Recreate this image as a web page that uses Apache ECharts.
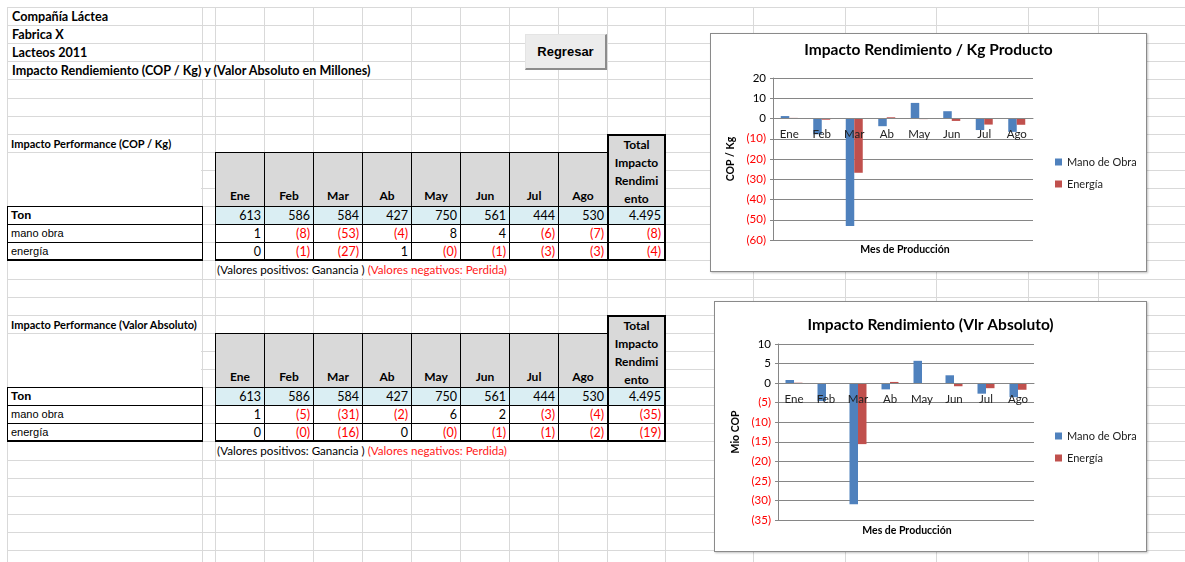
<!DOCTYPE html>
<html>
<head>
<meta charset="utf-8">
<script src="https://cdn.jsdelivr.net/npm/echarts@6/dist/echarts.min.js"></script>
<style>
  body { margin: 0; width: 1185px; height: 562px; overflow: hidden; background: #fff; position: relative; font-family: Lato, "Open Sans", sans-serif; color: #000; }
  .cell { position: absolute; box-sizing: border-box; white-space: nowrap; overflow: hidden; }
  .chart { position: absolute; box-sizing: border-box; background: #fff; border: 1px solid #8a8a8a; box-shadow: 1px 1px 2px rgba(0,0,0,0.25); }
</style>
</head>
<body>
<div id="c1" class="chart" style="left:710px;top:33px;width:437px;height:239px;"></div>
<div id="c2" class="chart" style="left:714px;top:301px;width:433px;height:251px;"></div>
<script>
// datos
const months = ['Ene', 'Feb', 'Mar', 'Ab', 'May', 'Jun', 'Jul', 'Ago'];
const tonMes = ['613', '586', '584', '427', '750', '561', '444', '530'];
const tonTotal = '4.495';

// impacto por Kg (COP / Kg)
const kgManoObra = [1.2, -7.8, -53.1, -3.8, 7.7, 3.6, -5.7, -6.6];
const kgEnergia = [0.3, -0.6, -26.8, 0.6, -0.3, -1.2, -3.0, -3.1];
const kgTotales = [-8, -4];
const kgEje = [-60, 20, 10]; // min, max, intervalo

// impacto valor absoluto (Mio COP)
const absManoObra = [0.8, -4.6, -31.0, -1.6, 5.7, 2.0, -2.7, -3.6];
const absEnergia = [0.1, -0.2, -15.6, 0.3, -0.2, -0.8, -1.3, -1.7];
const absTotales = [-35, -19];
const absEje = [-35, 10, 5];

const titulos = ['Compañía Láctea', 'Fabrica X', 'Lacteos 2011', 'Impacto Rendiemiento (COP / Kg) y (Valor Absoluto en Millones)'];

// hoja de calculo
const colX = [7, 202, 215, 264, 313, 362, 411, 460, 509, 558, 607, 665, 753, 845, 936, 1028, 1098];
const rowY = n => Math.round(7 + 18.1 * n);

function box(x, y, w, h, css, html) {
  const d = document.createElement('div');
  d.className = 'cell';
  d.style.cssText = 'left:' + x + 'px;top:' + y + 'px;width:' + w + 'px;height:' + h + 'px;' + (css || '');
  if (html != null) d.innerHTML = html;
  document.body.insertBefore(d, document.getElementById('c1'));
  return d;
}

function fmt(v) {
  const r = Math.round(v);
  return v < 0 ? '(' + Math.abs(r) + ')' : String(r);
}
function colorOf(v) { return v < 0 ? '#ff0000' : '#000'; }

// lineas de la grilla
for (let n = 0; n <= 30; n++) box(7, rowY(n), 1185 - 7, 1, 'background:#d9d9d9;');
colX.forEach(x => box(x, 7, 1, 562 - 7, 'background:#d9d9d9;'));

// titulos
titulos.forEach((t, i) => {
  box(8, rowY(i) + 1, i === 3 ? 402 : 190, 17, 'background:' + (i === 3 ? '#fff' : 'transparent') + ';padding-left:4px;font:bold 12.6px Lato;line-height:17px;', t);
});

// boton
box(525, 34, 82, 36, 'background:#ececec;border-top:1px solid #e4e4e4;border-left:1px solid #e4e4e4;border-right:2px solid #8c8c8c;border-bottom:2px solid #8c8c8c;text-align:center;font:bold 13px "Liberation Sans";line-height:33px;', 'Regresar');

function tabla(r0, etiqueta, mano, energia, totales) {
  box(8, rowY(r0) + 1, 193, 17, 'padding-left:3px;font:bold 11px Lato;line-height:17px;', etiqueta);
  box(8, rowY(r0 + 1) + 1, 193, rowY(r0 + 4) - rowY(r0 + 1) - 1, 'background:#fff;');
  // encabezados
  months.forEach((m, i) => {
    box(colX[2 + i], rowY(r0 + 1), colX[3 + i] - colX[2 + i] + 1, rowY(r0 + 4) - rowY(r0 + 1) + 1,
      'background:#d9d9d9;border:1px solid #000;text-align:center;font:bold 12px Lato;line-height:17px;padding-top:' + (rowY(r0 + 4) - rowY(r0 + 1) - 20) + 'px;', m);
  });
  box(colX[10], rowY(r0), colX[11] - colX[10] + 1, rowY(r0 + 4) - rowY(r0) + 1,
    'background:#d9d9d9;border:2px solid #000;border-bottom-width:1px;text-align:center;font:bold 12px Lato;line-height:18px;padding-top:0px;', 'Total<br>Impacto<br>Rendimi<br>ento');
  // filas
  const filas = [
    { label: 'Ton', bold: true, vals: tonMes.concat([tonTotal]), colors: null, bg: '#daeef3' },
    { label: 'mano obra', vals: mano.map(fmt).concat([fmt(totales[0])]), colors: mano.map(colorOf).concat([colorOf(totales[0])]), bg: '#fff' },
    { label: 'energía', vals: energia.map(fmt).concat([fmt(totales[1])]), colors: energia.map(colorOf).concat([colorOf(totales[1])]), bg: '#fff' }
  ];
  filas.forEach((f, k) => {
    const y = rowY(r0 + 4 + k), h = rowY(r0 + 5 + k) - y + 1;
    const last = k === 2;
    box(7, y, 196, h, 'background:#fff;border:1px solid #000;' + (last ? 'border-bottom-width:2px;' : '') + 'padding-left:3px;font:' + (f.bold ? 'bold 11.5px' : '11px') + ' "Liberation Sans";line-height:' + (h - 2) + 'px;', f.label);
    f.vals.forEach((v, i) => {
      const x0 = colX[2 + i], x1 = colX[3 + i];
      const isTot = i === 8;
      box(x0, y, x1 - x0 + 1, h,
        'background:' + f.bg + ';border:1px solid #000;' + (isTot ? 'border-left-width:2px;border-right-width:2px;' : '') + (last ? 'border-bottom-width:2px;' : '') +
        'text-align:right;padding-right:3px;font:12.5px Lato;line-height:' + (h - 2) + 'px;color:' + (f.colors ? f.colors[i] : '#000') + ';', v);
    });
  });
  // nota
  box(216, rowY(r0 + 7) + 1, 341, 17, 'background:#fff;padding-left:1px;font:11.6px Lato;line-height:17px;',
    '(Valores positivos: Ganancia ) <span style="color:#ff2020">(Valores negativos: Perdida)</span>');
}

tabla(7, 'Impacto Performance (COP / Kg)', kgManoObra, kgEnergia, kgTotales);
tabla(17, 'Impacto Performance (Valor Absoluto)', absManoObra, absEnergia, absTotales);

// graficos
function opcion(cfg) {
  const [yMin, yMax, yInt] = cfg.eje;
  // el eje de categorias (con sus etiquetas) cruza en el valor 0, como en Excel
  const zeroOffset = -cfg.grid[3] * (0 - yMin) / (yMax - yMin);
  return {
    animation: false,
    textStyle: { fontFamily: 'Lato' },
    title: {
      text: cfg.titulo, left: 'center', top: cfg.titleTop,
      textStyle: { fontSize: 15.5, fontWeight: 'bold', color: '#000', fontFamily: 'Lato' }
    },
    grid: { left: cfg.grid[0], top: cfg.grid[1], width: cfg.grid[2], height: cfg.grid[3] },
    legend: {
      orient: 'vertical', left: cfg.legend[0], top: cfg.legend[1],
      icon: 'rect', itemWidth: 7, itemHeight: 7, itemGap: 10,
      textStyle: { fontSize: 11, color: '#222', lineHeight: 12 },
      data: ['Mano de Obra', 'Energía']
    },
    xAxis: {
      type: 'category', data: months, z: 5, position: 'bottom', offset: zeroOffset,
      axisLine: { onZero: false, lineStyle: { color: '#868686' } },
      axisTick: { show: false },
      axisLabel: { margin: 10, fontSize: 11.5, color: '#222', interval: 0 }
    },
    yAxis: {
      type: 'value', min: yMin, max: yMax, interval: yInt,
      name: cfg.yName, nameLocation: 'middle', nameGap: cfg.nameGap,
      nameTextStyle: { fontWeight: 'bold', fontSize: 10.5, color: '#000' },
      axisLine: { show: true, lineStyle: { color: '#868686' } },
      axisTick: { show: true, length: 3, lineStyle: { color: '#868686' } },
      splitLine: { lineStyle: { color: '#868686' } },
      axisLabel: {
        fontSize: 11.5, margin: 7,
        formatter: v => (v < 0 ? '(' + (-v) + ')' : String(v)),
        color: v => (Number(v) < 0 ? '#ff0000' : '#000')
      }
    },
    graphic: [{
      type: 'text', x: cfg.xName[0], y: cfg.xName[1],
      style: { text: 'Mes de Producción', font: 'bold 10.5px Lato', fill: '#000', textAlign: 'center', textVerticalAlign: 'middle' }
    }],
    series: [
      { name: 'Mano de Obra', type: 'bar', data: cfg.mano, barWidth: 8.5, barGap: '0%', itemStyle: { color: '#4f81bd' } },
      { name: 'Energía', type: 'bar', data: cfg.energia, barWidth: 8.5, itemStyle: { color: '#c0504d' } }
    ]
  };
}

const chart1 = echarts.init(document.getElementById('c1'), null, { width: 435, height: 237 });
chart1.setOption(opcion({
  titulo: 'Impacto Rendimiento / Kg Producto', titleTop: 3,
  grid: [62, 44, 260, 162], legend: [339, 117],
  eje: kgEje, yName: 'COP / Kg', nameGap: 29, xName: [194, 216],
  mano: kgManoObra, energia: kgEnergia
}));

const chart2 = echarts.init(document.getElementById('c2'), null, { width: 431, height: 249 });
chart2.setOption(opcion({
  titulo: 'Impacto Rendimiento (Vlr Absoluto)', titleTop: 10,
  grid: [63, 42, 256, 176], legend: [335, 123],
  eje: absEje, yName: 'Mio COP', nameGap: 31, xName: [192, 229],
  mano: absManoObra, energia: absEnergia
}));
</script>
</body>
</html>
